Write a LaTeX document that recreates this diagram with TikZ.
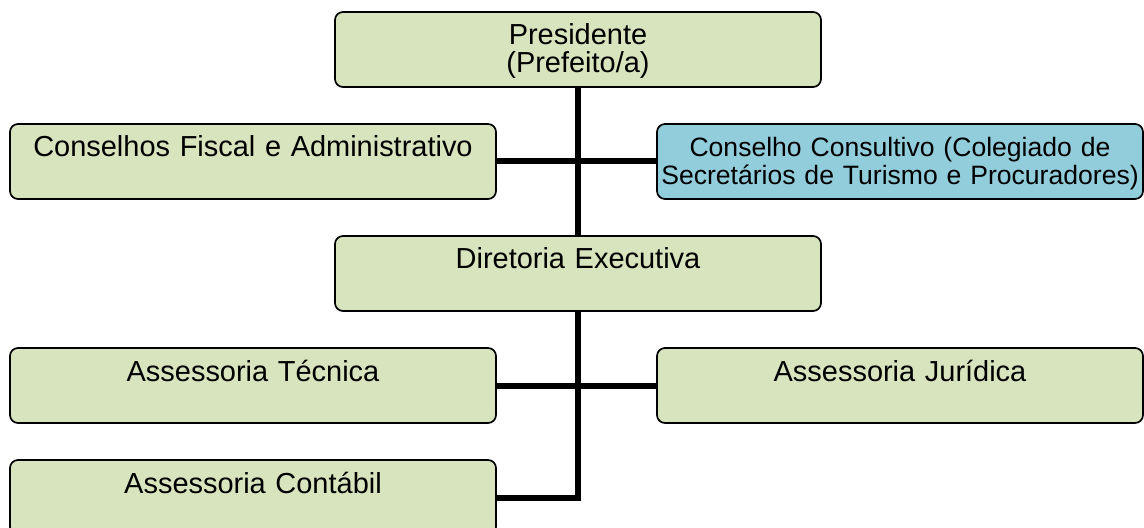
\documentclass[tikz,border=0pt]{standalone}
\usepackage{fontspec}
\setmainfont{Liberation Sans}
\usepackage{xcolor}
\usepackage{tikz}
\usetikzlibrary{positioning}
\definecolor{unitgreen}{HTML}{D7E4BD}
\definecolor{councilblue}{HTML}{92CDDC}

\begin{document}
\begin{tikzpicture}[
    node distance=2.8cm,
    block/.style={
        rectangle,
        draw,
        line width=1.2pt,
        fill=unitgreen,
        text width=12.0cm,
        align=center,
        inner xsep=0.075cm,
        inner ysep=0pt,
        text height=0.825cm,
        text depth=1.05cm,
        rounded corners=0.2cm,
        font=\fontsize{20.6}{19.6}\selectfont
    },
    line/.style={
        draw,
        line width=0.15cm
    }
]
\useasboundingbox (0,0) rectangle (28.6,-13.2);

% Nodes
\node [block] (pres) at (14.45,-1.2375) {Presidente\\(Prefeito/a)};
\node [block, below of=pres, xshift=-8.125cm] (fiscal) {Conselhos Fiscal e Administrativo};
\node [block, below of=pres, xshift=8.05cm, fill=councilblue, font=\fontsize{18.9}{19.9}\selectfont] (consult) {Conselho Consultivo (Colegiado de\\Secretários de Turismo e Procuradores)};
\node [block, below of=pres, node distance=5.6cm] (board) {Diretoria Executiva};
\node [block, below of=board, xshift=-8.125cm] (tech) {Assessoria Técnica};
\node [block, below of=board, xshift=8.05cm] (legal) {Assessoria Jurídica};
\node [block, below of=board, node distance=5.6cm, xshift=-8.125cm] (account) {Assessoria Contábil};

% Paths
\path [line] (pres) -- (board);
\path [line] (fiscal) -- (consult);
\path [line] (tech) -- (legal);
\path [line] (board) |- (account);

\end{tikzpicture}
\end{document}
